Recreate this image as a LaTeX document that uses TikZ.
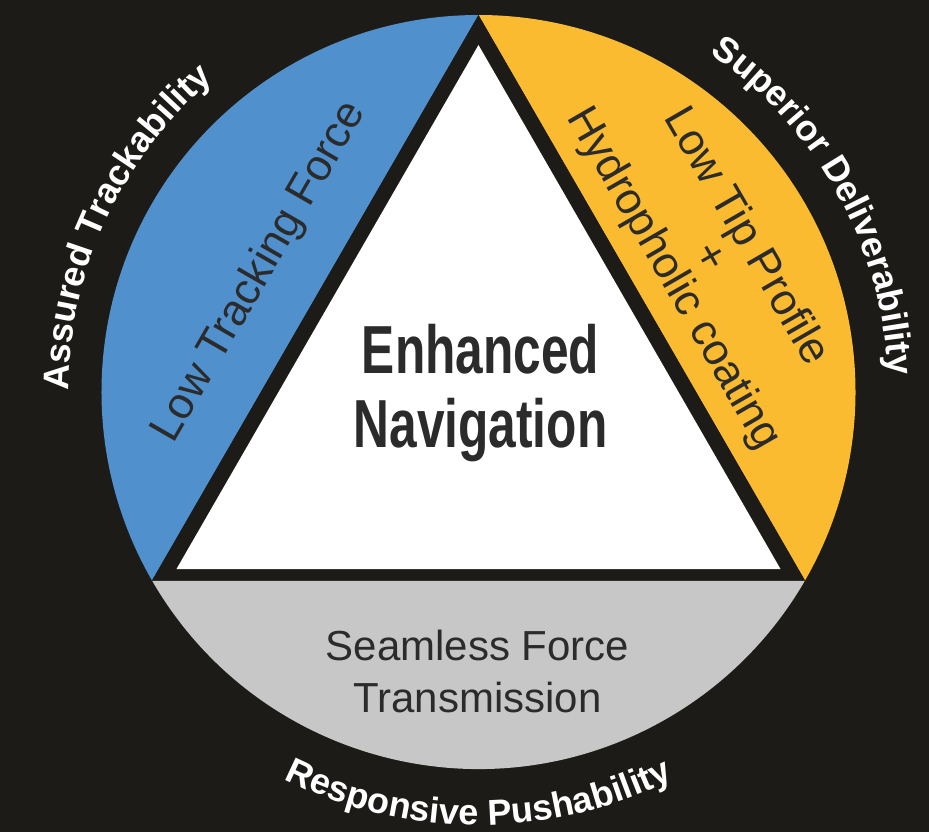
\documentclass[tikz,border=0pt]{standalone}
\usepackage{fontspec}
\setmainfont{Liberation Sans}
\newfontfamily\navfont{Liberation Sans}[FakeStretch=0.73]
\usetikzlibrary{decorations.text}
\definecolor{bgblack}{HTML}{1D1B18}
\definecolor{trackblue}{HTML}{5090CC}
\definecolor{deliveryellow}{HTML}{FBBB30}
\definecolor{pushgray}{HTML}{C6C7C6}
\definecolor{labelgray}{HTML}{2B2B2B}
\begin{document}
\begin{tikzpicture}[x=0.5pt,y=0.5pt,
    inner/.style={text=labelgray,font=\fontsize{22}{21}\selectfont},
    rim/.style={decorate,decoration={text along path,text align=center,
      text color=white,text={|\bfseries\fontsize{18}{18}\selectfont|#1}}}]
  \fill[bgblack] (-478.5,-440) rectangle (450.5,392);
  \useasboundingbox (-478.5,-440) rectangle (450.5,392);

  \fill[trackblue] (90:377) arc[start angle=90,end angle=210,radius=377] -- cycle;
  \fill[deliveryellow] (90:377) arc[start angle=90,end angle=-30,radius=377] -- cycle;
  \fill[pushgray] (210:377) arc[start angle=210,end angle=330,radius=377] -- cycle;
  \fill[bgblack] (90:377) -- (210:377) -- (330:377) -- cycle;
  \fill[white] (0,347) -- (-302,-177) -- (302,-177) -- cycle;

  \node[anchor=base,text=labelgray,font=\navfont\bfseries\fontsize{34}{37}\selectfont] (enhanced) at (2,19) {Enhanced};
  \node[anchor=base,text=labelgray,font=\navfont\bfseries\fontsize{34}{37}\selectfont] (navigation) at (2,-55) {Navigation};

  \node[inner,rotate=60] (trackforce) at (-218.5,120) {Low Tracking Force};
  \node[inner,rotate=-60,align=center] (tipprofile) at (230.5,134) {Low Tip Profile\\+\\Hydropholic coating};
  \node[anchor=base,text=labelgray,font=\fontsize{21}{26}\selectfont] (seamless) at (-1,-268) {Seamless Force};
  \node[anchor=base,text=labelgray,font=\fontsize{21}{26}\selectfont] (transmission) at (-1,-320) {Transmission};

  \path[rim={Assured Trackability}] (200:410) arc[start angle=200,end angle=110,radius=410];
  \path[rim={Superior Deliverability}] (74:410) arc[start angle=74,end angle=-16,radius=410];
  \path[rim={Responsive Pushability}] (225:433) arc[start angle=225,end angle=315,radius=433];
\end{tikzpicture}
\end{document}
